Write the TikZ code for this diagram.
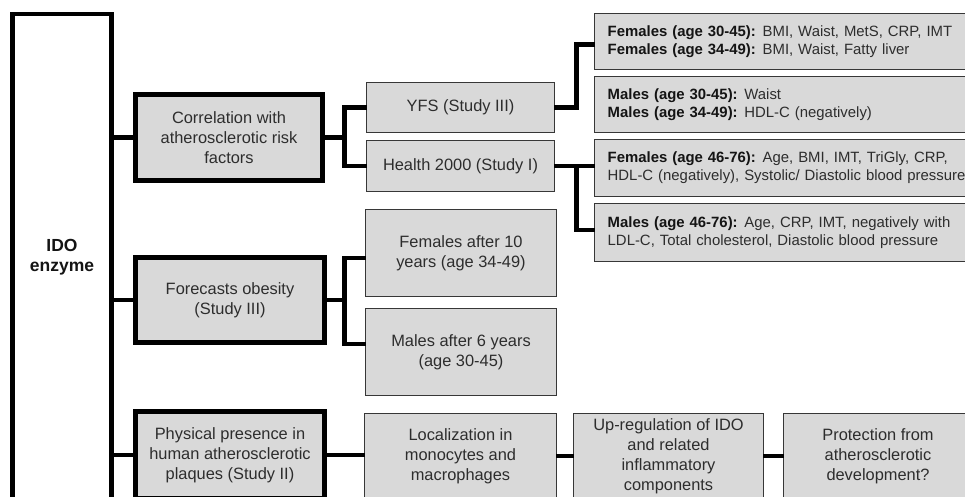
\documentclass[tikz,border=0pt]{standalone}
\usepackage{fontspec}
\setmainfont{Liberation Sans}
\definecolor{boxfill}{RGB}{217,217,217}
\definecolor{bordc}{RGB}{55,55,55}
\definecolor{txt}{RGB}{45,45,45}
\definecolor{btxt}{RGB}{20,20,20}
\tikzset{
  basebox/.style={fill=boxfill, inner sep=0pt, outer sep=0pt, text=txt, align=center,
    font=\fontsize{16.4}{20}\selectfont},
  thickbox/.style={basebox, draw=black, line width=4.6pt},
  thinbox/.style={basebox, draw=bordc, line width=1.4pt},
  rightbox/.style={thinbox, minimum width=398pt, text width=372pt, inner xsep=13pt,
    align=left, font=\fontsize{14.9}{18}\selectfont},
  conn/.style={draw=black, line width=4.6pt},
}
\newcommand{\lbl}[1]{\textbf{\color{btxt}#1}\hspace{0.45em}}
\begin{document}
\begin{tikzpicture}[x=1pt,y=-1pt]
\useasboundingbox[fill=white] (0,0) rectangle (965,497);
% IDO
\node[draw=black, line width=4.6pt, fill=white, inner sep=0pt, outer sep=0pt,
  minimum width=99.5pt, minimum height=486pt, align=center,
  font=\fontsize{17.5}{20.5}\selectfont\bfseries, text=btxt] (ido) at (62,257) {IDO\\enzyme};
% level 1
\node[thickbox, minimum width=187.5pt, minimum height=86.5pt] (corr) at (229,137.5)
  {Correlation with\\atherosclerotic risk\\factors};
\node[thickbox, minimum width=189.5pt, minimum height=85.5pt] (fore) at (230,300)
  {Forecasts obesity\\(Study III)};
\node[thickbox, minimum width=189.5pt, minimum height=87.5pt] (phys) at (230,455)
  {Physical presence in\\human atherosclerotic\\plaques (Study II)};
% level 2
\node[thinbox, minimum width=187.5pt, minimum height=49.5pt] (yfs) at (460.5,107.5)
  {YFS (Study III)};
\node[thinbox, minimum width=187.5pt, minimum height=50.5pt] (health) at (460.5,166)
  {Health 2000 (Study I)};
\node[thinbox, minimum width=190.5pt, minimum height=86.5pt] (fem10) at (461,253)
  {Females after 10\\years (age 34-49)};
\node[thinbox, minimum width=190.5pt, minimum height=86.5pt] (mal6) at (461,352)
  {Males after 6 years\\(age 30-45)};
\node[thinbox, minimum width=191.5pt, minimum height=84.5pt] (loc) at (460.5,456)
  {Localization in\\monocytes and\\macrophages};
\node[thinbox, minimum width=189.5pt, minimum height=84.5pt] (upreg) at (668.5,456)
  {Up-regulation of IDO\\and related\\inflammatory\\components};
\node[thinbox, minimum width=188.5pt, minimum height=84.5pt] (prot) at (878,456)
  {Protection from\\atherosclerotic\\development?};
% right column
\node[rightbox, minimum height=55.5pt] (r1) at (793.7,41.5)
  {\lbl{Females (age 30-45):}BMI, Waist, MetS, CRP, IMT\\
   \lbl{Females (age 34-49):}BMI, Waist, Fatty liver};
\node[rightbox, minimum height=55.5pt] (r2) at (793.7,104.5)
  {\lbl{Males (age 30-45):}Waist\\
   \lbl{Males (age 34-49):}HDL-C (negatively)};
\node[rightbox, minimum height=56.5pt] (r3) at (793.7,168)
  {\lbl{Females (age 46-76):}Age, BMI, IMT, TriGly, CRP,\\
   HDL-C (negatively), Systolic/ Diastolic blood pressure};
\node[rightbox, minimum height=57.5pt] (r4) at (793.7,232.5)
  {\lbl{Males (age 46-76):}Age, CRP, IMT, negatively with\\
   LDL-C, Total cholesterol, Diastolic blood pressure};
% connectors
\draw[conn] (ido.east |- corr.west) -- (corr.west);
\draw[conn] (ido.east |- fore.west) -- (fore.west);
\draw[conn] (ido.east |- phys.west) -- (phys.west);
\draw[conn] (corr.east) -- ++(22,0) |- (yfs.west);
\draw[conn] (corr.east) -- ++(22,0) |- (health.west);
\draw[conn] (fore.east) -- ++(20,0) |- ([yshift=-5pt]fem10.west);
\draw[conn] (fore.east) -- ++(20,0) |- ([yshift=8pt]mal6.west);
\draw[conn] (yfs.east) -- ++(22,0) |- ([yshift=-3pt]r1.west);
\draw[conn] (health.east) -- (health.east -| r3.west);
\draw[conn] (health.east) ++(22,0) |- ([yshift=2.5pt]r4.west);
\draw[conn] (phys.east) -- (phys.east -| loc.west);
\draw[conn] (loc.east) -- (upreg.west);
\draw[conn] (upreg.east) -- (prot.west);
\end{tikzpicture}
\end{document}
